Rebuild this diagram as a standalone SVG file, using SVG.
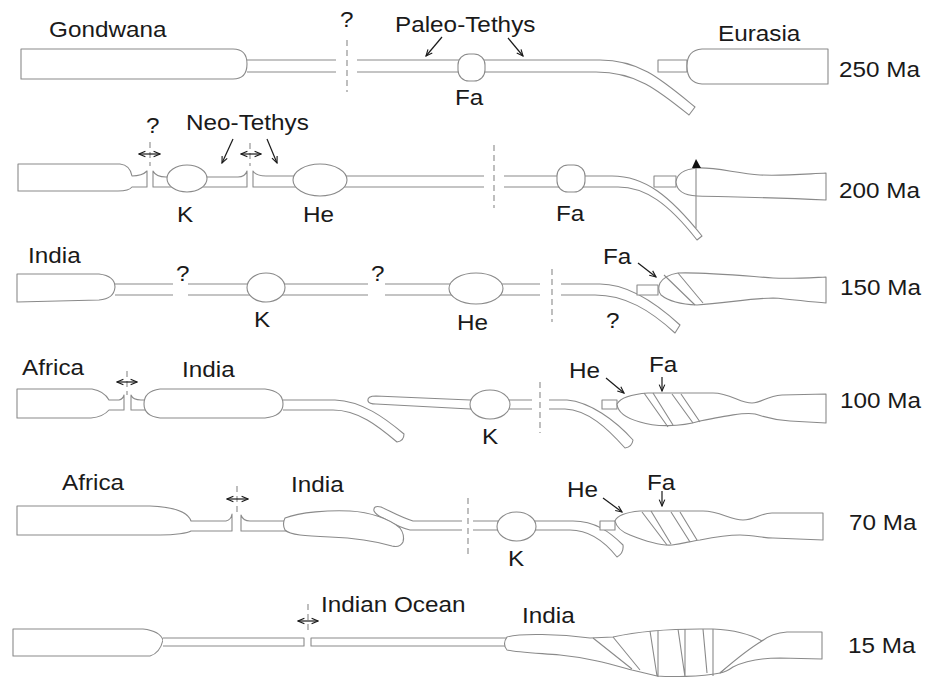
<svg xmlns="http://www.w3.org/2000/svg" width="925" height="677" viewBox="0 0 925 677">
  <style>
    .pl { fill: #fff; stroke: #8a8a8a; stroke-width: 1.1; stroke-linejoin: round; }
    .ln { fill: none; stroke: #8a8a8a; stroke-width: 1.1; }
    .dash { fill: none; stroke: #8a8a8a; stroke-width: 1.1; stroke-dasharray: 6 4; }
    .ar { fill: none; stroke: #1a1a1a; stroke-width: 1.2; marker-end: url(#head); }
    .dbl { fill: none; stroke: #1a1a1a; stroke-width: 1.2; marker-start: url(#head); marker-end: url(#head); }
    text { font-family: "Liberation Sans", Arial, sans-serif; font-size: 21.5px; fill: #1a1a1a; }
  </style>
  <defs>
    <marker id="head" viewBox="0 0 10 10" refX="9" refY="5" markerUnits="userSpaceOnUse" markerWidth="8" markerHeight="8" orient="auto-start-reverse">
      <path d="M1,1.5 L9,5 L1,8.5" fill="none" stroke="#1a1a1a" stroke-width="1.4"/>
    </marker>
  </defs>
  <rect width="925" height="677" fill="#fff"/>

  <!-- 250 Ma -->
  <g id="row-250">
    <g id="gondwana-250">
      <path class="pl" d="M21,49 H233 Q247,49 247,64 Q247,79 233,79 H21 Z"/>
      <path class="ln" d="M247,60 H336 M247,72 H336"/>
    </g>
    <path class="dash" d="M347,40 V92"/>
    <g id="paleotethys-250">
      <path class="pl" d="M357,60 H600 C640,60 662,80 695,107 L689,115 C658,90 636,72 596,72 H357"/>
      <rect class="pl" x="458" y="54" width="27" height="27" rx="11"/>
    </g>
    <g id="eurasia-250">
      <rect class="pl" x="658" y="60" width="29" height="12"/>
      <path class="pl" d="M828,49 H702 Q687,50 687,66 Q687,83 702,84 H828 Z"/>
    </g>
  </g>

  <!-- 200 Ma -->
  <g id="row-200">
    <g id="gondwana-200">
      <path class="pl" d="M18,164 H120 Q130,165 132,176 Q142,176 147,171 V187 H132 Q129,191 118,191 H18 Z"/>
    </g>
    <path class="dash" d="M150,142 V166"/>
    <g id="k-200">
      <path class="pl" d="M153,171 Q156,177 166,177 H238 Q245,177 247,171 V187 H153 Z"/>
      <ellipse class="pl" cx="187" cy="178.5" rx="20" ry="13.5"/>
    </g>
    <path class="dash" d="M250,143 V166"/>
    <g id="he-200">
      <path class="pl" d="M484,176 H266 Q256,176 253,171 V187 H484"/>
      <ellipse class="pl" cx="320" cy="180" rx="27" ry="16"/>
    </g>
    <path class="dash" d="M494,145 V208"/>
    <g id="fa-200">
      <path class="pl" d="M504,176 H612 C645,176 670,196 702,236 L697,240 C668,203 645,187 618,187 H504"/>
      <rect class="pl" x="557" y="165" width="28" height="27" rx="11"/>
    </g>
    <g id="eurasia-200">
      <rect class="pl" x="654" y="176" width="22" height="11"/>
      <path class="pl" d="M826,173 C805,174 785,176 760,175 C735,173 715,167 697,168 Q677,170 676,182 Q677,195 697,196 C725,197 760,197 826,200 Z"/>
      <path class="ln" d="M696,167 V228"/>
      <polygon points="696,159 692,168 701,168" fill="#111"/>
    </g>
  </g>

  <!-- 150 Ma -->
  <g id="row-150">
    <g id="india-150">
      <path class="pl" d="M17,274 H99 Q115,276 115,287 Q114,299 99,300 L17,302 Z"/>
      <path class="ln" d="M115,284 H173 M115,295 H173"/>
    </g>
    <g id="k-150">
      <path class="ln" d="M188,284 H368 M188,295 H368"/>
      <ellipse class="pl" cx="266" cy="287.5" rx="19" ry="14.5"/>
    </g>
    <g id="he-150">
      <path class="ln" d="M385,284 H540 M385,295 H540"/>
      <ellipse class="pl" cx="476" cy="288.5" rx="27" ry="15.5"/>
    </g>
    <path class="dash" d="M552,269 V322"/>
    <g id="slab-150">
      <path class="pl" d="M561,284 H600 C628,284 655,302 680,325 L675,333 C650,310 625,295 595,295 H561"/>
    </g>
    <g id="eurasia-150">
      <rect class="pl" x="637" y="285" width="21" height="10"/>
      <path class="pl" d="M826,277 C805,278 790,279 773,278 C745,276 705,272 678,273 Q665,275 660,283 Q657,290 661,295 Q672,304 697,305 C725,303 755,298 773,298 C792,299 808,302 826,303 Z"/>
      <path class="ln" d="M664,275 L695,305 M678,273 L703,303"/>
    </g>
  </g>

  <!-- 100 Ma -->
  <g id="row-100">
    <g id="africa-100">
      <path class="pl" d="M17,389 H92 Q104,391 109,400 H119 Q123,399 124,395 V410 H109 Q103,417 91,418 H17 Z"/>
    </g>
    <path class="dash" d="M127,371 V395"/>
    <g id="india-100">
      <path class="pl" d="M131,395 Q133,400 141,400 H150 V410 H131 Z"/>
      <path class="pl" d="M283,400 H335 C362,401 385,418 404,434 Q404,441 397,442 C378,426 358,410 333,410 H283"/>
      <path class="pl" d="M160,389 H265 Q283,391 283,404 Q283,416 265,418 H160 Q144,416 144,404 Q144,391 160,389 Z"/>
    </g>
    <g id="k-100">
      <path class="pl" d="M532,400 H470 L376,396 Q367,396 368,401 Q369,404 376,404 L470,409 H532"/>
      <ellipse class="pl" cx="490" cy="404.5" rx="20" ry="14.5"/>
    </g>
    <path class="dash" d="M540,382 V433"/>
    <g id="slab-100">
      <path class="pl" d="M549,400 H567 C590,402 615,420 633,440 Q632,447 625,448 C607,428 588,410 565,409 H549"/>
    </g>
    <g id="eurasia-100">
      <rect class="pl" x="602" y="400" width="15" height="9"/>
      <path class="pl" d="M826,394 L782,395 C766,396 762,403 752,403 C740,403 730,393 713,393 L648,393 Q622,395 617,404 Q618,416 640,422 C655,427 680,427 700,421 C725,416 745,412 755,414 C765,417 772,420 790,421 L826,423 Z"/>
      <path class="ln" d="M644,393 L668,427 M653,393 L673,425 M672,394 L693,423 M681,394 L700,422"/>
    </g>
  </g>

  <!-- 70 Ma -->
  <g id="row-70">
    <g id="africa-70">
      <path class="pl" d="M17,506 H150 C175,507 188,512 191,521 H226 Q231,520 232,514 V531 H191 C188,533 175,535 160,535 H17 Z"/>
    </g>
    <path class="dash" d="M237,486 V512"/>
    <g id="india-70">
      <path class="pl" d="M241,515 Q243,521 250,521 H292 V531 H241 Z"/>
      <path class="pl" d="M462,521 H413 C400,517 390,511 381,507 Q373,505 374,511 Q376,515 383,518 C392,523 400,528 410,530 H462"/>
      <path class="pl" d="M285,518 C300,512 330,510 350,511 C370,512 390,519 400,528 Q405,535 403,542 Q400,548 392,546 C375,541 355,538 330,537 C305,536 290,535 285,530 Q282,524 285,518 Z"/>
    </g>
    <path class="dash" d="M468,498 V557"/>
    <g id="k-70">
      <path class="pl" d="M473,521 H573 C595,521 610,532 623,545 Q624,553 617,557 C605,542 590,530 570,530 H473"/>
      <ellipse class="pl" cx="516.5" cy="526.5" rx="19.5" ry="14.5"/>
    </g>
    <g id="eurasia-70">
      <rect class="pl" x="600" y="521" width="15" height="9"/>
      <path class="pl" d="M823,513 L772,513 C760,513 755,520 743,520 C730,520 720,511 703,511 L640,511 Q618,513 615,521 Q617,530 630,535 C645,541 660,546 672,545 C685,543 692,541 700,540 C715,537 728,535 740,535 C755,535 762,538 773,538 L823,540 Z"/>
      <path class="ln" d="M642,512 L667,545 M651,511 L671,544 M671,512 L690,542 M680,512 L697,540"/>
    </g>
  </g>

  <!-- 15 Ma -->
  <g id="row-15">
    <g id="africa-15">
      <path class="pl" d="M13,629 H143 Q160,631 163,640 Q160,653 150,656 H13 Z"/>
      <path class="pl" d="M163,638 H304 V646 H163"/>
    </g>
    <path class="dash" d="M308,604 V634"/>
    <g id="india-15">
      <path class="pl" d="M520,638 H311 V646 H520"/>
      <path class="pl" d="M507,637 C520,633 560,634 590,638 L613,637 C640,631 670,629 700,629 L713,629 C735,630 750,634 762,641 L720,673 C700,677 670,677 657,676 L632,670 C610,664 590,658 560,655 C535,653 515,652 507,650 Q502,644 507,637 Z"/>
      <path class="ln" d="M593,638 L632,669 M613,637 L640,670"/>
      <path class="ln" d="M650,631 L657,676 M658,631 L658,677 M678,629 L685,677 M685,629 L685,677 M703,629 L707,673 M713,629 L713,676"/>
    </g>
    <g id="eurasia-15">
      <path class="pl" d="M822,632 L787,632 C775,633 767,637 762,641 C750,648 735,660 720,673 Q726,672 733,667 C745,661 760,658 780,658 L822,659 Z"/>
    </g>
  </g>

  <!-- label arrows -->
  <g id="connectors">
    <path class="ar" d="M442,37 L426,56"/>
    <path class="ar" d="M508,38 L523,56"/>
    <path class="dbl" d="M139,154 L160,154"/>
    <path class="ar" d="M233,139 L222,163"/>
    <path class="dbl" d="M241,154 L261,154"/>
    <path class="ar" d="M267,139 L277,163"/>
    <path class="ar" d="M638,263 L656,277"/>
    <path class="dbl" d="M117,382 L137,382"/>
    <path class="ar" d="M606,378 L624,393"/>
    <path class="ar" d="M662,377 L662,391"/>
    <path class="dbl" d="M227,499 L248,499"/>
    <path class="ar" d="M603,498 L622,512"/>
    <path class="ar" d="M662,491 L662,506"/>
    <path class="dbl" d="M298,621 L318,621"/>
  </g>

  <g id="labels">
    <text transform="matrix(1.13 0 0 1 49 37)">Gondwana</text>
    <text transform="matrix(1.13 0 0 1 340 27)">?</text>
    <text transform="matrix(1.13 0 0 1 395 32)">Paleo-Tethys</text>
    <text transform="matrix(1.13 0 0 1 718 41)">Eurasia</text>
    <text transform="matrix(1.13 0 0 1 455 105)">Fa</text>
    <text transform="matrix(1.13 0 0 1 839 77)">250 Ma</text>

    <text transform="matrix(1.13 0 0 1 146 133)">?</text>
    <text transform="matrix(1.13 0 0 1 186 130)">Neo-Tethys</text>
    <text transform="matrix(1.13 0 0 1 177 222)">K</text>
    <text transform="matrix(1.13 0 0 1 303 222)">He</text>
    <text transform="matrix(1.13 0 0 1 556 221)">Fa</text>
    <text transform="matrix(1.13 0 0 1 839 198)">200 Ma</text>

    <text transform="matrix(1.13 0 0 1 28 263)">India</text>
    <text transform="matrix(1.13 0 0 1 176 281)">?</text>
    <text transform="matrix(1.13 0 0 1 371 281)">?</text>
    <text transform="matrix(1.13 0 0 1 254 327)">K</text>
    <text transform="matrix(1.13 0 0 1 457 330)">He</text>
    <text transform="matrix(1.13 0 0 1 606 328)">?</text>
    <text transform="matrix(1.13 0 0 1 603 264)">Fa</text>
    <text transform="matrix(1.13 0 0 1 840 295)">150 Ma</text>

    <text transform="matrix(1.13 0 0 1 22 375)">Africa</text>
    <text transform="matrix(1.13 0 0 1 182 377)">India</text>
    <text transform="matrix(1.13 0 0 1 482 444)">K</text>
    <text transform="matrix(1.13 0 0 1 569 378)">He</text>
    <text transform="matrix(1.13 0 0 1 649 372)">Fa</text>
    <text transform="matrix(1.13 0 0 1 840 408)">100 Ma</text>

    <text transform="matrix(1.13 0 0 1 62 490)">Africa</text>
    <text transform="matrix(1.13 0 0 1 291 492)">India</text>
    <text transform="matrix(1.13 0 0 1 508 566)">K</text>
    <text transform="matrix(1.13 0 0 1 567 497)">He</text>
    <text transform="matrix(1.13 0 0 1 647 490)">Fa</text>
    <text transform="matrix(1.13 0 0 1 849 530)">70 Ma</text>

    <text transform="matrix(1.13 0 0 1 321 612)">Indian Ocean</text>
    <text transform="matrix(1.13 0 0 1 522 623)">India</text>
    <text transform="matrix(1.13 0 0 1 848 653)">15 Ma</text>
  </g>
</svg>
